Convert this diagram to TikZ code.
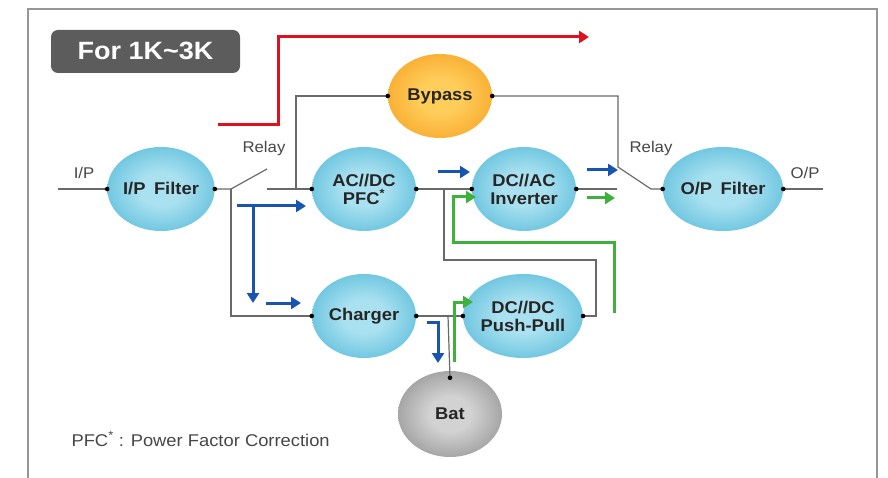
\documentclass[tikz,border=0pt]{standalone}
\usepackage{fontspec}
\setmainfont{Liberation Sans}[FakeStretch=1.08]
\usetikzlibrary{shapes.geometric,arrows.meta}

\definecolor{cyanin}{RGB}{170,225,240}
\definecolor{cyanout}{RGB}{58,174,210}
\definecolor{orangein}{RGB}{255,205,90}
\definecolor{orangeout}{RGB}{244,148,18}
\definecolor{batin}{RGB}{210,210,210}
\definecolor{batout}{RGB}{122,122,122}
\definecolor{wirecol}{RGB}{105,105,105}
\definecolor{framecol}{RGB}{150,150,150}
\definecolor{labcol}{RGB}{70,70,70}
\definecolor{titlecol}{RGB}{92,92,92}
\definecolor{flowred}{RGB}{222,18,30}
\definecolor{flowblue}{RGB}{25,85,175}
\definecolor{flowgreen}{RGB}{62,176,60}

\pgfdeclareradialshading{cyanball}{\pgfpoint{0bp}{0bp}}{color(0bp)=(cyanin); color(10bp)=(cyanin); color(40bp)=(cyanout); color(50bp)=(cyanout)}
\pgfdeclareradialshading{orangeball}{\pgfpoint{0bp}{0bp}}{color(0bp)=(orangein); color(10bp)=(orangein); color(40bp)=(orangeout); color(50bp)=(orangeout)}
\pgfdeclareradialshading{batball}{\pgfpoint{0bp}{0bp}}{color(0bp)=(batin); color(10bp)=(batin); color(40bp)=(batout); color(50bp)=(batout)}

\tikzset{
    block/.style={ellipse, minimum width=104pt, minimum height=84pt, inner sep=0pt,
        align=center, font=\fontsize{17}{18}\selectfont\bfseries, text=black!85},
    cyanblock/.style={block, shade, shading=cyanball},
    wire/.style={draw=wirecol, line width=1.2pt},
    flow/.style={line width=3pt, -{Triangle[length=10pt,width=12pt]}},
    lbl/.style={font=\fontsize{15.5}{16}\selectfont, text=labcol},
}

\begin{document}
\begin{tikzpicture}[x=1pt, y=-1pt]
            \useasboundingbox (0,0) rectangle (888,478);
            \draw[framecol, line width=1.4pt] (28,478) -- (28,9) -- (877,9) -- (877,478);

            \fill[titlecol, rounded corners=7pt] (51,30) rectangle (240,73);
            \node[text=white, font=\fontsize{25}{25}\selectfont\bfseries] (title) at (145.5,51) {For 1K\textasciitilde 3K};

            \node[cyanblock] (ipf) at (161,189) {I/P\enspace Filter};
            \node[cyanblock] (acdc) at (364,189) {AC//DC\\PFC\textsuperscript{*}};
            \node[cyanblock] (dcac) at (524,189) {DC//AC\\Inverter};
            \node[cyanblock] (opf) at (723,189) {O/P\enspace Filter};
            \node[block, shade, shading=orangeball] (bypass) at (440,96) {Bypass};
            \node[cyanblock] (charger) at (364,316) {Charger};
            \node[cyanblock] (dcdc) at (523,316) {DC//DC\\Push-Pull};
            \node[block, minimum height=86pt, shade, shading=batball] (bat) at (450,414) {Bat};

            \node[lbl] (ip) at (84,173) {I/P};
            \node[lbl] (op) at (805,173) {O/P};
            \node[lbl] (relay1) at (264,148) {Relay};
            \node[lbl] (relay2) at (651,148) {Relay};
            \node[lbl, font=\fontsize{17}{18}\selectfont, anchor=west] (note) at (68,439) {PFC\textsuperscript{*} : Power Factor Correction};

            \coordinate (ipin) at (58,189);
            \coordinate (opout) at (823,189);
            \coordinate (rj1) at (231,189);
            \coordinate (rc1) at (267,189);
            \coordinate (byj) at (296,189);
            \coordinate (pj) at (444,189);
            \coordinate (rc2) at (617,189);
            \coordinate (rj2) at (651,189);
            \coordinate (cj) at (448,316);
            \coordinate (batdot) at ([yshift=-7pt]bat.north);

            \draw[wire] (ipin) -- (ipf.west);
            \draw[wire] (ipf.east) -- (rj1) -- (267,169);
            \draw[wire] (rc1) -- (acdc.west);
            \draw[wire] (byj) |- (bypass.west);
            \draw[wire] (rj1) |- (charger.west);
            \draw[wire] (acdc.east) -- (dcac.west);
            \draw[wire] (pj) |- (596,260) |- (dcdc.east);
            \draw[wire] (charger.east) -- (dcdc.west);
            \draw[wire] (cj) -- (batdot);
            \draw[wire] (dcac.east) -- (rc2);
            \draw[wire] (bypass.east) -| (618,167) -- (rj2) -- (opf.west);
            \draw[wire] (opf.east) -- (opout);

            \foreach \p in {ipf.west, ipf.east, acdc.west, acdc.east, dcac.west, dcac.east,
                opf.west, opf.east, bypass.west, bypass.east, charger.west, charger.east,
                dcdc.west, dcdc.east, batdot}
                \fill (\p) circle (2.3pt);

            \draw[flow, flowred] (218,125) -- (278,125) |- (589,37);

            \draw[flow, flowblue] (237,206) -- (306,206);
            \draw[flow, flowblue] (253,206) -- (253,303);
            \draw[flow, flowblue] (266,303) -- (301,303);
            \draw[flow, flowblue] (438,172) -- (470,172);
            \draw[flow, flowblue] (587,170) -- (618,170);
            \draw[flow, flowblue] (427,322) -- (438,322) -- (438,363);

            \draw[flow, flowgreen] (587,198) -- (615,198);
            \draw[flow, flowgreen] (614,313) |- (453,243) |- (476,197);
            \draw[flow, flowgreen] (454,362) |- (473,302);
        \end{tikzpicture}
\end{document}
